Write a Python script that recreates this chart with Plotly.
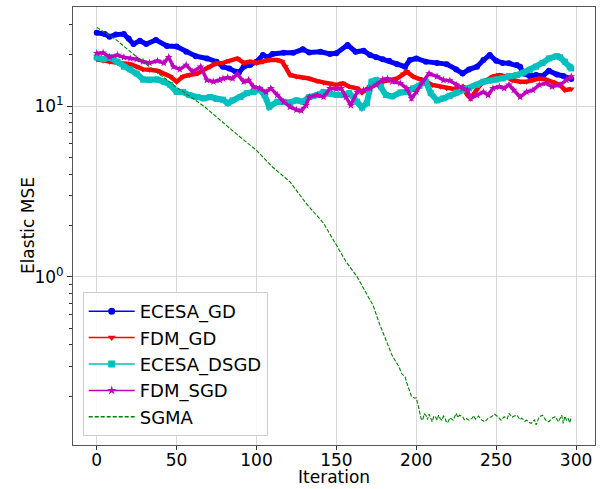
import plotly.graph_objects as go

# ---------------- data ----------------
ecesa_gd_x = [0, 5, 8, 12, 17, 20, 23, 27, 31, 37, 44, 50, 56, 62, 69, 75, 79, 83, 87, 89, 92, 96, 100,
              104, 107, 110, 117, 123, 129, 133, 140, 146, 150, 157, 162, 167, 171, 175, 179, 183, 188,
              193, 196, 200, 206, 213, 219, 225, 229, 233, 238, 242, 246, 250, 254, 258, 263, 265, 267,
              271, 275, 279, 283, 288, 292, 297]
ecesa_gd_y = [26.9, 26.4, 25.5, 26.2, 26.4, 24.9, 23.1, 24.1, 23.1, 24.4, 22.5, 22.3, 20.8, 19.6, 19.0,
              18.2, 17.0, 16.6, 15.9, 15.7, 17.0, 17.4, 18.2, 19.9, 19.3, 20.2, 20.5, 20.5, 21.5, 20.6,
              20.8, 20.2, 20.4, 22.8, 20.8, 21.1, 19.9, 19.3, 18.8, 18.4, 17.6, 17.0, 18.6, 19.0, 18.2,
              17.9, 17.6, 16.4, 15.5, 16.4, 17.0, 18.6, 19.9, 18.4, 17.9, 17.8, 17.4, 17.0, 15.5, 15.0,
              15.2, 15.0, 16.1, 15.3, 15.0, 14.4]

fdm_gd_x = [0, 4, 8, 13, 17, 21, 25, 29, 33, 38, 42, 46, 50, 54, 58, 63, 67, 71, 75, 79, 83, 88, 92, 96,
            100, 104, 108, 113, 116, 118, 121, 125, 129, 133, 138, 142, 146, 150, 154, 158, 163, 166, 171,
            175, 179, 183, 188, 192, 194, 198, 202, 206, 210, 215, 219, 225, 229, 232, 234, 240, 244, 248,
            252, 256, 260, 265, 269, 273, 277, 281, 285, 290, 293, 297]
fdm_gd_y = [18.8, 18.4, 18.2, 17.9, 17.8, 17.6, 17.0, 16.4, 16.3, 16.1, 15.5, 14.9, 13.9, 14.9, 15.2,
            15.5, 16.3, 17.0, 17.8, 17.9, 18.4, 19.0, 17.9, 18.2, 17.9, 18.2, 18.6, 18.6, 18.2, 17.0,
            15.2, 14.9, 14.7, 14.5, 14.0, 13.7, 13.6, 13.3, 13.6, 13.0, 12.7, 12.0, 13.0, 13.6, 13.9,
            14.2, 14.5, 15.4, 15.9, 14.9, 14.5, 13.9, 13.3, 13.0, 12.7, 12.5, 13.0, 11.6, 11.1, 13.3,
            14.2, 14.9, 15.2, 14.9, 14.2, 13.9, 13.9, 14.2, 14.5, 14.3, 13.9, 13.3, 12.4, 12.6]

ecesa_dsgd_x = [0, 4, 8, 13, 17, 21, 25, 29, 33, 38, 42, 46, 50, 54, 58, 63, 67, 71, 75, 79, 82, 85, 90,
                94, 98, 102, 105, 108, 113, 117, 121, 125, 129, 133, 138, 142, 146, 150, 154, 158, 163,
                166, 169, 172, 175, 178, 181, 185, 190, 194, 198, 202, 206, 209, 213, 217, 221, 225, 229,
                233, 238, 242, 246, 250, 254, 258, 263, 267, 271, 275, 279, 283, 288, 290, 293, 296, 297]
ecesa_dsgd_y = [19.3, 18.8, 19.3, 18.2, 17.0, 16.4, 15.5, 14.3, 14.2, 14.3, 13.9, 13.3, 12.1, 12.1, 11.6,
                11.3, 11.1, 11.3, 11.0, 10.9, 10.4, 10.8, 11.3, 11.9, 12.1, 12.5, 11.6, 9.9, 10.6, 10.6,
                10.5, 10.8, 10.6, 11.3, 11.6, 12.1, 11.8, 11.6, 11.6, 11.9, 10.6, 9.8, 10.4, 13.9, 14.2,
                13.0, 11.6, 11.4, 12.0, 12.1, 12.7, 13.1, 13.9, 11.9, 10.8, 11.1, 11.5, 12.0, 12.4, 12.7,
                13.3, 13.9, 14.1, 14.3, 14.5, 15.0, 15.2, 15.7, 16.3, 17.0, 17.9, 19.0, 19.6, 19.3, 18.2,
                17.0, 16.6]

fdm_sgd_x = [0, 4, 8, 13, 17, 21, 25, 29, 33, 38, 42, 45, 48, 52, 56, 60, 65, 69, 73, 77, 79, 82, 85, 88,
             92, 95, 98, 102, 106, 109, 113, 117, 121, 125, 128, 131, 133, 138, 142, 146, 150, 153, 156,
             159, 163, 167, 171, 175, 179, 182, 185, 190, 194, 197, 200, 204, 208, 213, 217, 221, 225,
             229, 232, 234, 238, 242, 245, 248, 252, 255, 258, 261, 265, 269, 273, 277, 281, 285, 290,
             294, 297]
fdm_sgd_y = [20.4, 20.5, 19.4, 19.9, 19.3, 19.0, 18.8, 18.2, 17.9, 18.4, 17.9, 19.3, 17.0, 16.4, 17.4,
             15.9, 17.0, 14.2, 13.9, 14.2, 14.5, 14.7, 14.5, 15.4, 13.9, 14.2, 13.0, 12.7, 12.1, 12.7,
             11.6, 10.6, 9.9, 9.5, 9.4, 10.1, 11.3, 11.6, 11.3, 12.7, 12.6, 12.7, 11.3, 10.1, 12.1, 12.4,
             12.7, 13.3, 14.3, 14.5, 13.9, 13.6, 12.7, 11.1, 12.1, 13.9, 15.5, 14.9, 14.2, 14.1, 13.3,
             12.7, 12.4, 11.1, 11.6, 12.1, 11.6, 12.7, 13.0, 12.7, 13.3, 12.4, 11.3, 12.1, 12.4, 13.3,
             13.6, 13.0, 13.3, 14.2, 14.9]

sgma_x = [0, 12, 25, 38, 50, 67, 77, 88, 100, 110, 121, 131, 142, 150, 156, 163, 169, 173, 177, 181, 185,
          189, 191, 192, 193, 194, 196, 197, 199, 200, 201, 202, 203, 204, 205, 206, 207, 208, 209, 210,
          211, 212, 213, 214, 215, 216, 217, 218, 219, 220, 221, 223, 225, 226, 227, 229, 230, 231, 233,
          235, 236, 237, 239, 241, 243, 245, 247, 249, 251, 253, 255, 257, 258, 260, 261, 263, 265, 266,
          268, 269, 271, 272, 274, 275, 277, 279, 281, 283, 285, 287, 289, 290, 291, 292, 293, 294, 295,
          296, 297]
sgma_y = [28.9, 24.5, 19.4, 15.7, 12.9, 10.0, 8.3, 6.8, 5.5, 4.4, 3.6, 2.7, 2.06, 1.54, 1.23, 1.0, 0.80,
          0.68, 0.53, 0.43, 0.345, 0.30, 0.27, 0.265, 0.26, 0.24, 0.215, 0.20, 0.195, 0.196, 0.18, 0.165,
          0.148, 0.145, 0.158, 0.155, 0.146, 0.157, 0.15, 0.142, 0.153, 0.152, 0.145, 0.155, 0.148,
          0.145, 0.153, 0.149, 0.14, 0.142, 0.15, 0.145, 0.159, 0.15, 0.155, 0.152, 0.146, 0.149, 0.145,
          0.149, 0.154, 0.147, 0.153, 0.145, 0.142, 0.149, 0.152, 0.157, 0.152, 0.145, 0.152, 0.148,
          0.159, 0.151, 0.153, 0.155, 0.146, 0.149, 0.143, 0.145, 0.14, 0.139, 0.146, 0.136, 0.152,
          0.155, 0.145, 0.142, 0.149, 0.152, 0.142, 0.15, 0.155, 0.139, 0.153, 0.145, 0.149, 0.14, 0.152]

series = [
    ("ECESA_GD", ecesa_gd_x, ecesa_gd_y, "#0000ff", "circle", 6, 5.0),
    ("FDM_GD", fdm_gd_x, fdm_gd_y, "#ff0000", "triangle-down", 6, 4.5),
    ("ECESA_DSGD", ecesa_dsgd_x, ecesa_dsgd_y, "#00bfbf", "square", 6, 6.0),
    ("FDM_SGD", fdm_sgd_x, fdm_sgd_y, "#bf00bf", "star", 6, 3.5),
]

x_tickvals = [0, 50, 100, 150, 200, 250, 300]
y_tickvals = [1, 10]
y_ticktext = ["10<sup>0</sup>", "10<sup>1</sup>"]
y_minor = [0.2, 0.3, 0.4, 0.5, 0.6, 0.7, 0.8, 0.9, 2, 3, 4, 5, 6, 7, 8, 9, 20, 30]

FONT = "DejaVu Sans"
fig = go.Figure()

for name, xs, ys, col, sym, msz, lw in series:
    fig.add_trace(go.Scatter(
        x=xs, y=ys, mode="lines+markers", showlegend=False,
        line=dict(color=col, width=lw),
        marker=dict(symbol=sym, size=msz, color=col),
    ))

fig.add_trace(go.Scatter(
    x=sgma_x, y=sgma_y, mode="lines", showlegend=False,
    line=dict(color="#008000", width=1.1, dash="4px,1.6px"),
))

# legend entries
for i, (name, xs, ys, col, sym, msz, lw) in enumerate(series):
    fig.add_trace(go.Scatter(
        x=[None], y=[None], mode="lines+markers", name=name, legendgroup=name,
        line=dict(color=col, width=1.5),
        marker=dict(symbol=sym, size=7, color=col),
    ))
fig.add_trace(go.Scatter(
    x=[None], y=[None], mode="lines", name="SGMA", legendgroup="SGMA",
    line=dict(color="#008000", width=1.5, dash="4px,2px"),
))

axis_common = dict(
    showline=True, linecolor="#555555", linewidth=1, mirror=True,
    showgrid=True, gridcolor="#d9d9d9", gridwidth=1,
    tickcolor="#333333",
    tickfont=dict(family=FONT, size=17, color="black"),
    zeroline=False, automargin=False,
)

fig.update_layout(
    width=605, height=489,
    paper_bgcolor="white", plot_bgcolor="white",
    margin=dict(l=73, r=10, t=7, b=44),
    font=dict(family=FONT, size=17, color="black"),
    xaxis=dict(
        range=[-14.85, 311.85], tickvals=x_tickvals, ticks="",
        minor=dict(tickvals=x_tickvals, ticks="outside", ticklen=4, tickcolor="#333333", showgrid=False),
        **axis_common,
    ),
    yaxis=dict(
        type="log", range=[-0.984, 1.580], ticks="outside", ticklen=5,
        tickvals=y_tickvals, ticktext=y_ticktext,
        minor=dict(tickvals=y_minor, ticks="outside", ticklen=3, tickcolor="#333333", showgrid=False),
        **axis_common,
    ),
    annotations=[
        dict(
            text="Elastic MSE", textangle=-90, showarrow=False,
            xref="paper", yref="paper", x=-0.086, y=0.5, xanchor="center", yanchor="middle",
            font=dict(family=FONT, size=17, color="black"),
        ),
        dict(
            text="Iteration", showarrow=False,
            xref="paper", yref="paper", x=0.5, y=-0.1005, xanchor="center", yanchor="bottom",
            font=dict(family=FONT, size=17, color="black"),
        ),
    ],
    legend=dict(
        x=0.0186, y=0.0205, xanchor="left", yanchor="bottom",
        bgcolor="rgba(255,255,255,0.85)", bordercolor="#cccccc", borderwidth=1,
        font=dict(family=FONT, size=18, color="black"),
        itemwidth=46, tracegroupgap=0,
    ),
)

fig.write_html(
    "out.html",
    config={"displayModeBar": False},
    post_script="document.body.style.margin='0';document.body.style.padding='0';",
)
